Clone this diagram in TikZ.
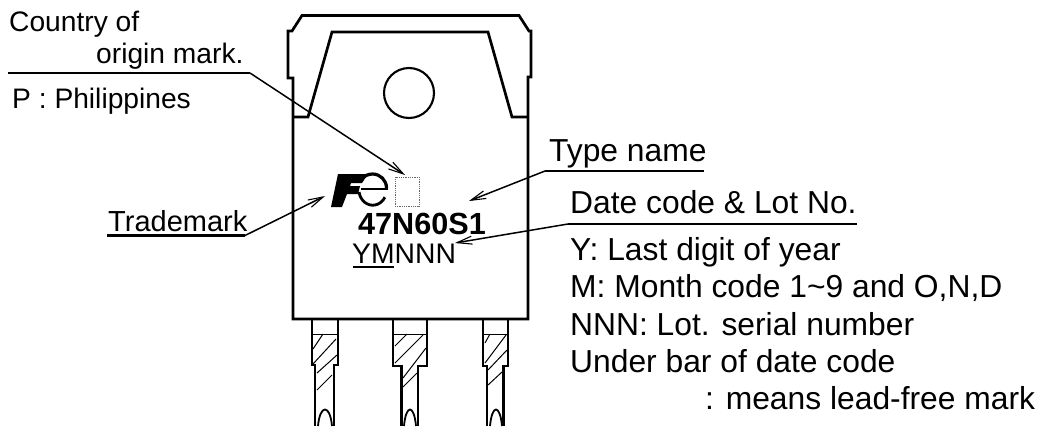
\documentclass[tikz,border=0pt]{standalone}
\usepackage{fontspec}
\setmainfont{Liberation Sans}
\usetikzlibrary{arrows.meta,positioning}

\begin{document}
\begin{tikzpicture}[x=1pt,y=-1pt,
	body/.style={line width=2.7pt, line join=miter},
	thin hatch/.style={line width=1pt},
	leader/.style={line width=1.5pt, -{Straight Barb[length=15pt,width=8pt,line width=1.1pt]}},
	bar/.style={line width=2.3pt},
	label/.style={inner sep=0pt, anchor=base west, font=\fontsize{31.8}{31.8}\selectfont},
	left label/.style={label, font=\fontsize{28.2}{28.2}\selectfont}]
		\useasboundingbox (0,0) rectangle (1044,426);

		% package outline
		\draw[body] (293,319) -- (293,78) -- (288,78) -- (288,31) -- (292,31) -- (302,15.5) -- (519,15.5) -- (529,31) -- (531,31) -- (531,77) -- (528,77) -- (528,319) -- cycle;
		\draw[body] (293,117) -- (308,117) -- (332,32) -- (488,32) -- (512,117) -- (528,117);
		\draw[line width=2.1pt] (409,93) circle (25);

		% leads
		\draw[body] (312,319) -- (312,365) -- (315,365) -- (315,426);
		\draw[body] (338,319) -- (338,365) -- (334,365) -- (334,426);
		\draw[thin hatch] (312,334) -- (338,334);
		\draw[thin hatch] (313,349) -- (323,334);
		\draw[thin hatch] (313,364) -- (336,339);
		\draw[thin hatch] (317,373) -- (337,355);
		\draw[thin hatch] (317,390) -- (332,375);
		\draw[line width=1.8pt] (318,426) .. controls (320,404) and (330,404) .. (332,426);

		\draw[body] (393,319) -- (393,366) -- (401.5,366) -- (401.5,426);
		\draw[body] (427,319) -- (427,366) -- (418,366) -- (418,426);
		\draw[thin hatch] (393,334) -- (427,334);
		\draw[thin hatch] (395,346) -- (407,334);
		\draw[thin hatch] (395,363) -- (423,335);
		\draw[thin hatch] (403,378) -- (426,348);
		\draw[thin hatch] (403,387) -- (417,373);
		\draw[line width=1.8pt] (404,426) .. controls (406,404) and (414,404) .. (416,426);

		\draw[body] (483,319) -- (483,366) -- (487,366) -- (487,426);
		\draw[body] (508,319) -- (508,366) -- (503.5,366) -- (503.5,426);
		\draw[thin hatch] (483,334) -- (508,334);
		\draw[thin hatch] (485,343) -- (490,334);
		\draw[thin hatch] (485,363) -- (506,335);
		\draw[thin hatch] (488,370) -- (507,350);
		\draw[thin hatch] (488,385) -- (502,372);
		\draw[line width=1.8pt] (490,426) .. controls (492,404) and (500,404) .. (502,426);

		% logo
		\fill (338,174) -- (368,174) -- (362,183) -- (351,183) -- (350,186) -- (360,186) -- (358,194) -- (347,194) -- (342,207) -- (331,207) -- cycle;
		\draw[line width=2pt] (361,189) -- (388,189);
		\draw[line width=3.2pt] (386.5,188) arc (0:-140:14 and 14);
		\draw[line width=2.8pt] (359,192) arc (170:30:14 and 16);

		% mark box
		\node[draw=black!60, densely dotted, line width=0.8pt, minimum width=24pt, minimum height=29pt, inner sep=0pt] (box) at (407,191.5) {};

		% printed marks
		\node[label, font=\fontsize{30.6}{30.6}\selectfont\bfseries] (type) at (358,234) {47N60S1};
		\node[label, font=\fontsize{28.3}{28.3}\selectfont] (code) at (352,263) {YMNNN};
		\draw[bar] (353,267) -- (394,267);

		% labels
		\node[left label] (country) at (9,31) {Country of};
		\node[left label] (origin) at (96,63) {origin mark.};
		\node[left label] (phil) at (12,108) {P : Philippines};
		\node[left label, font=\fontsize{29}{29}\selectfont] (tm) at (108,231) {Trademark};
		\node[label] (tn) at (549,161) {Type name};
		\node[label] (dc) at (570,213) {Date code \& Lot No.};
		\node[label] (y) at (570,260) {Y: Last digit of year};
		\node[label] (m) at (570,297) {M: Month code 1\textasciitilde 9 and O,N,D};
		\node[label] (n) at (570,335) {NNN: Lot. serial number};
		\node[label] (u) at (570,372) {Under bar of date code};
		\node[label] (l) at (705,409) {: means lead-free mark};

		% leaders
		\coordinate (c0) at (8,73);
		\coordinate (c1) at (250,73);
		\coordinate (c2) at (405,175);
		\draw[bar] (c0) -- (c1);
		\draw[leader] (c1) -- (c2);
		\coordinate (t0) at (107,235.5);
		\coordinate (t1) at (245,235.5);
		\coordinate (t2) at (325,196);
		\draw[bar] (t0) -- (t1);
		\draw[leader] (t1) -- (t2);
		\coordinate (n0) at (704,171);
		\coordinate (n1) at (545,171);
		\coordinate (n2) at (469,201);
		\draw[bar] (n0) -- (n1);
		\draw[leader] (n1) -- (n2);
		\coordinate (d0) at (857,224);
		\coordinate (d1) at (568,224);
		\coordinate (d2) at (455,243);
		\draw[bar] (d0) -- (d1);
		\draw[leader] (d1) -- (d2);
	\end{tikzpicture}
\end{document}
